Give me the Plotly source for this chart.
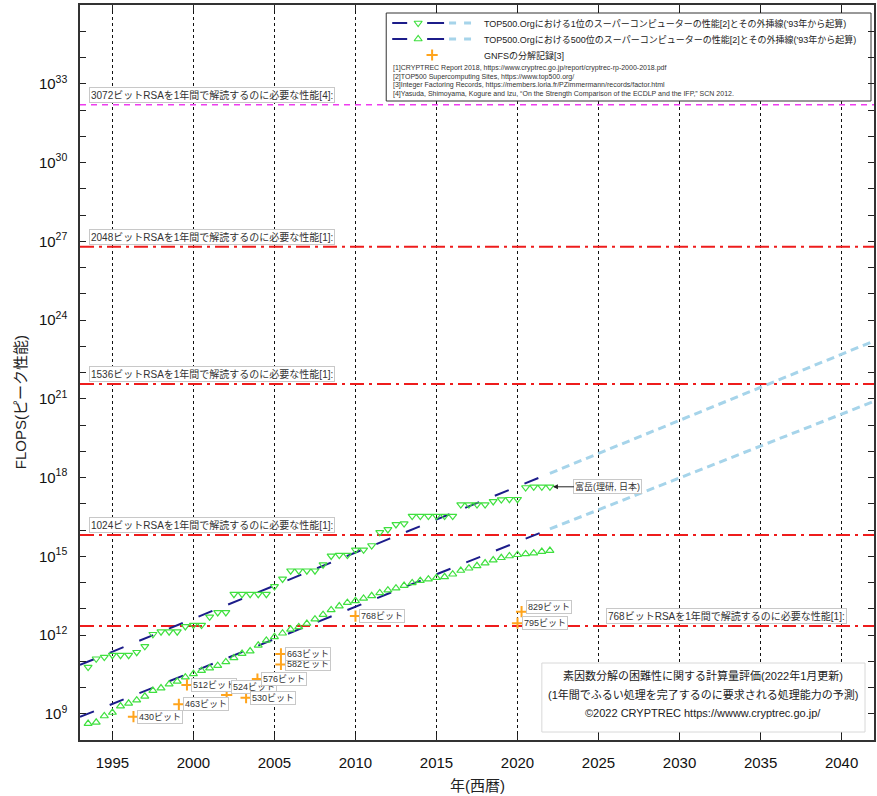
import math
import plotly.graph_objects as go

# ---------------- data ----------------
# TOP500 list editions (June -> year+0.5, November -> year+1.0)
top500_x = [1993.5, 1994.0, 1994.5, 1995.0, 1995.5, 1996.0, 1996.5, 1997.0, 1997.5, 1998.0,
            1998.5, 1999.0, 1999.5, 2000.0, 2000.5, 2001.0, 2001.5, 2002.0, 2002.5, 2003.0,
            2003.5, 2004.0, 2004.5, 2005.0, 2005.5, 2006.0, 2006.5, 2007.0, 2007.5, 2008.0,
            2008.5, 2009.0, 2009.5, 2010.0, 2010.5, 2011.0, 2011.5, 2012.0, 2012.5, 2013.0,
            2013.5, 2014.0, 2014.5, 2015.0, 2015.5, 2016.0, 2016.5, 2017.0, 2017.5, 2018.0,
            2018.5, 2019.0, 2019.5, 2020.0, 2020.5, 2021.0, 2021.5, 2022.0]
# performance of the No.1 system (GFLOPS)
rank1_gflops = [59.7, 124.5, 143.4, 170.4, 170.4, 170.4, 220.4, 368.2, 1068, 1338,
                1338, 1338, 2121, 2379, 2379, 4938, 7226, 7226, 35860, 35860,
                35860, 35860, 35860, 70720, 136800, 280600, 280600, 280600, 280600, 478200,
                1026000, 1105000, 1105000, 1759000, 1759000, 2566000, 8162000, 10510000, 16320000, 17590000,
                33860000, 33860000, 33860000, 33860000, 33860000, 33860000, 93010000, 93010000, 93010000, 93010000,
                122300000, 143500000, 148600000, 148600000, 415530000, 442010000, 442010000, 442010000]
# performance of the No.500 system (GFLOPS)
rank500_gflops = [0.422, 0.472, 0.822, 1.114, 1.956, 2.489, 3.306, 4.619, 7.667, 9.513,
                  13.39, 17.12, 24.73, 33.11, 43.82, 55.1, 67.78, 94.3, 134.3, 195.8,
                  245.1, 403.4, 624, 850.6, 1166, 1646, 2026, 2737, 4005, 5929,
                  9000, 12640, 17090, 20050, 24670, 31120, 40190, 50940, 60820, 76500,
                  96620, 117800, 133700, 153400, 164900, 206400, 285900, 349300, 432200, 548700,
                  715600, 874800, 1022000, 1142000, 1228000, 1317000, 1511000, 1646000]

# trend lines (log10 FLOPS) read at start / end of fit / end of extrapolation
fit_years = [1993, 2022]
extra_years = [2022, 2042]
rank1_fit_log = [10.86, 18.16]
rank1_extra_log = [18.16, 23.2]
rank500_fit_log = [8.88, 16.04]
rank500_extra_log = [16.04, 20.9]

# GNFS factoring records
gnfs_year = [1996.3, 1999.1, 1999.6, 2002.05, 2003.25, 2003.95, 2005.4, 2005.4, 2010.0, 2020.0, 2020.25]
gnfs_log = [8.89, 9.36, 10.10, 9.71, 9.61, 10.32, 10.88, 11.28, 12.72, 12.45, 12.89]
gnfs_labels = ["430ビット", "463ビット", "512ビット", "524ビット", "530ビット", "576ビット",
               "582ビット", "663ビット", "768ビット", "795ビット", "829ビット"]

# performance required to break RSA in one year (log10 FLOPS)
rsa_labels = ["3072ビットRSAを1年間で解読するのに必要な性能[4]:",
              "2048ビットRSAを1年間で解読するのに必要な性能[1]:",
              "1536ビットRSAを1年間で解読するのに必要な性能[1]:",
              "1024ビットRSAを1年間で解読するのに必要な性能[1]:",
              "768ビットRSAを1年間で解読するのに必要な性能[1]:"]
rsa_log = [32.2, 26.79, 21.56, 15.81, 12.34]

x_range = [1993, 2042]
y_log_range = [8, 36]
x_ticks = [1995, 2000, 2005, 2010, 2015, 2020, 2025, 2030, 2035, 2040]
y_label_decades = [9, 12, 15, 18, 21, 24, 27, 30, 33]
y_decades = list(range(8, 37))

legend_texts = ["TOP500.Orgにおける1位のスーパーコンピューターの性能[2]とその外挿線('93年から起算)",
                "TOP500.Orgにおける500位のスーパーコンピューターの性能[2]とその外挿線('93年から起算)",
                "GNFSの分解記録[3]"]
ref_texts = ["[1]CRYPTREC Report 2018, https://www.cryptrec.go.jp/report/cryptrec-rp-2000-2018.pdf",
             "[2]TOP500 Supercomputing Sites, https://www.top500.org/",
             "[3]Integer Factoring Records, https://members.loria.fr/PZimmermann/records/factor.html",
             "[4]Yasuda, Shimoyama, Kogure and Izu, \u201cOn the Strength Comparison of the ECDLP and the IFP,\u201d SCN 2012."]
note_lines = ["素因数分解の困難性に関する計算量評価(2022年1月更新)",
              "(1年間でふるい処理を完了するのに要求される処理能力の予測)",
              "©2022 CRYPTREC https://wwww.cryptrec.go.jp/"]
x_title = "年(西暦)"
y_title = "FLOPS(ピーク性能)"

# ---------------- styles ----------------
FONT = "Liberation Sans, Noto Sans CJK JP, sans-serif"
GREEN = "#3fe03f"
NAVY = "#1c1c8a"
LIGHTBLUE = "#a6d4ea"
ORANGE = "#ffa41c"
RED = "#ee1c1c"
MAGENTA = "#ee3cee"

W, H = 877, 796
ML, MR, MT, MB = 80, 1, 5, 56
PW, PH = W - ML - MR, H - MT - MB


def px_to_paper(px, py):
    return (px - ML) / PW, (H - MB - py) / PH


fig = go.Figure()

# threshold lines
for i, (lab, lv) in enumerate(zip(rsa_labels, rsa_log)):
    if i == 0:
        line = dict(color=MAGENTA, width=1.5, dash="6px,5px")
    else:
        line = dict(color=RED, width=2, dash="14px,5px,3px,5px")
    fig.add_trace(go.Scatter(x=x_range, y=[10.0 ** lv, 10.0 ** lv], mode="lines",
                             line=line, hoverinfo="skip", showlegend=False))

# trend lines
for fit_log, extra_log in [(rank1_fit_log, rank1_extra_log), (rank500_fit_log, rank500_extra_log)]:
    fig.add_trace(go.Scatter(x=fit_years, y=[10.0 ** v for v in fit_log], mode="lines",
                             line=dict(color=NAVY, width=2, dash="15px,17px"),
                             showlegend=False, hoverinfo="skip"))
    fig.add_trace(go.Scatter(x=extra_years, y=[10.0 ** v for v in extra_log], mode="lines",
                             line=dict(color=LIGHTBLUE, width=3, dash="8px,5px"),
                             showlegend=False, hoverinfo="skip"))

# TOP500 points
MSIZE = 7
fig.add_trace(go.Scatter(x=top500_x, y=[v * 1e9 for v in rank1_gflops], mode="markers",
                         marker=dict(symbol="triangle-down-open", size=MSIZE, color=GREEN,
                                     line=dict(width=1.2, color=GREEN)),
                         showlegend=False))
fig.add_trace(go.Scatter(x=top500_x, y=[v * 1e9 for v in rank500_gflops], mode="markers",
                         marker=dict(symbol="triangle-up-open", size=MSIZE, color=GREEN,
                                     line=dict(width=1.2, color=GREEN)),
                         showlegend=False))
# GNFS
fig.add_trace(go.Scatter(x=gnfs_year, y=[10.0 ** v for v in gnfs_log], mode="markers",
                         marker=dict(symbol="cross-thin", size=8, color=ORANGE,
                                     line=dict(width=2, color=ORANGE)),
                         showlegend=False))

annotations = []
label_style = dict(bgcolor="white", bordercolor="#c8c8c8", borderwidth=1, borderpad=1,
                   showarrow=False)
# threshold labels
for i, (lab, lv) in enumerate(zip(rsa_labels, rsa_log)):
    if i < 4:
        annotations.append(dict(x=x_range[0], y=lv, xref="x", yref="y", text=lab,
                                xanchor="left", yanchor="bottom", xshift=9, yshift=2,
                                font=dict(size=10, color="#333", family=FONT), **label_style))
    else:
        annotations.append(dict(x=x_range[1], y=lv, xref="x", yref="y", text=lab,
                                xanchor="right", yanchor="bottom", xshift=-27, yshift=2,
                                font=dict(size=10, color="#333", family=FONT), **label_style))
# GNFS labels
gnfs_yshift = {"524ビット": 8, "829ビット": 5}
for yr, lv, lab in zip(gnfs_year, gnfs_log, gnfs_labels):
    annotations.append(dict(x=yr, y=lv, xref="x", yref="y", text=lab,
                            xanchor="left", yanchor="middle", xshift=4,
                            yshift=gnfs_yshift.get(lab, 0),
                            font=dict(size=9, color="#333", family=FONT), **label_style))
# Fugaku
annotations.append(dict(x=top500_x[-1], y=math.log10(rank1_gflops[-1] * 1e9),
                        xref="x", yref="y", text="富岳(理研, 日本)", showarrow=True,
                        arrowhead=2, arrowsize=1, arrowwidth=1, arrowcolor="#222",
                        ax=58, ay=0, standoff=3,
                        bgcolor="white", bordercolor="#c8c8c8", borderwidth=1, borderpad=1,
                        font=dict(size=9, color="#333", family=FONT)))

# axis titles (paper coordinates)
tx, ty = px_to_paper(478, 785)
annotations.append(dict(x=tx, y=ty, xref="paper", yref="paper", text=x_title, showarrow=False,
                        xanchor="center", yanchor="middle",
                        font=dict(size=15, color="#222", family=FONT)))
tx, ty = px_to_paper(20, 402)
annotations.append(dict(x=tx, y=ty, xref="paper", yref="paper", text=y_title,
                        showarrow=False, textangle=-90, xanchor="center", yanchor="middle",
                        font=dict(size=15, color="#222", family=FONT)))

# legend and note boxes (pixel-based overlay axes), drawn as filled outlines
LEG = dict(box=(387, 13, 873, 101), rows=(23, 39, 55), text_x=483,
           ref_x=392, ref_rows=(68, 77, 85, 94))
NOTE = dict(box=(543, 663, 867, 732), cx=705, rows=(675, 694, 713))
for box, col in [(LEG["box"], "#333"), (NOTE["box"], "#d8d8d8")]:
    x0, y0, x1, y1 = box
    fig.add_trace(go.Scatter(x=[x0, x1, x1, x0, x0], y=[y0, y0, y1, y1, y0],
                             xaxis="x2", yaxis="y2", mode="lines", fill="toself",
                             fillcolor="white", line=dict(color=col, width=1),
                             showlegend=False, hoverinfo="skip"))

for r, sym in zip(LEG["rows"][:2], ["triangle-down-open", "triangle-up-open"]):
    fig.add_trace(go.Scatter(x=[393, 408], y=[r, r], xaxis="x2", yaxis="y2", mode="lines",
                             line=dict(color=NAVY, width=2), showlegend=False, hoverinfo="skip"))
    fig.add_trace(go.Scatter(x=[428, 445], y=[r, r], xaxis="x2", yaxis="y2", mode="lines",
                             line=dict(color=NAVY, width=2), showlegend=False, hoverinfo="skip"))
    fig.add_trace(go.Scatter(x=[450, 472], y=[r, r], xaxis="x2", yaxis="y2", mode="lines",
                             line=dict(color=LIGHTBLUE, width=3, dash="7px,8px"),
                             showlegend=False, hoverinfo="skip"))
    fig.add_trace(go.Scatter(x=[419], y=[r], xaxis="x2", yaxis="y2", mode="markers",
                             marker=dict(symbol=sym, size=MSIZE, color=GREEN,
                                         line=dict(width=1.2, color=GREEN)),
                             showlegend=False, hoverinfo="skip"))
fig.add_trace(go.Scatter(x=[433], y=[LEG["rows"][2]], xaxis="x2", yaxis="y2", mode="markers",
                         marker=dict(symbol="cross-thin", size=8, color=ORANGE,
                                     line=dict(width=2, color=ORANGE)),
                         showlegend=False, hoverinfo="skip"))
for r, t in zip(LEG["rows"], legend_texts):
    annotations.append(dict(x=LEG["text_x"], y=r, xref="x2", yref="y2", text=t,
                            xanchor="left", yanchor="middle", showarrow=False,
                            font=dict(size=9, color="#222", family=FONT)))
for r, t in zip(LEG["ref_rows"], ref_texts):
    annotations.append(dict(x=LEG["ref_x"], y=r, xref="x2", yref="y2", text=t,
                            xanchor="left", yanchor="middle", showarrow=False,
                            font=dict(size=7, color="#333", family=FONT)))
for r, t in zip(NOTE["rows"], note_lines):
    annotations.append(dict(x=NOTE["cx"], y=r, xref="x2", yref="y2", text=t,
                            xanchor="center", yanchor="middle", showarrow=False,
                            font=dict(size=11, color="#222", family=FONT)))

y_tickvals = [10.0 ** k for k in y_label_decades]
y_ticktext = ["10<sup>%d</sup>" % k for k in y_label_decades]
y_minorvals = [10.0 ** k for k in y_decades if k not in y_label_decades]

fig.update_layout(
    width=W, height=H,
    margin=dict(l=ML, r=MR, t=MT, b=MB),
    paper_bgcolor="white", plot_bgcolor="white",
    font=dict(family=FONT, size=14, color="#111"),
    showlegend=False,
    xaxis=dict(range=x_range, tickvals=x_ticks, ticks="inside", ticklen=6, tickwidth=1,
               tickcolor="#222", showline=True, linecolor="#333", linewidth=1.8, mirror="ticks",
               showgrid=True, gridcolor="#111", gridwidth=1, griddash="3px,3px",
               zeroline=False, ticklabelstandoff=8, tickfont=dict(size=15, color="#111")),
    yaxis=dict(type="log", range=y_log_range, tickvals=y_tickvals, ticktext=y_ticktext,
               ticks="inside", ticklen=6, tickwidth=1, tickcolor="#222",
               minor=dict(tickmode="array", tickvals=y_minorvals, ticks="inside", ticklen=6,
                          tickwidth=1, tickcolor="#222", showgrid=False),
               showline=True, linecolor="#333", linewidth=1.5, mirror="ticks",
               showgrid=False, zeroline=False, ticklabelstandoff=8,
               tickfont=dict(size=15, color="#111")),
    xaxis2=dict(overlaying="x", anchor="y2", range=[ML, W - MR], visible=False),
    yaxis2=dict(overlaying="y", anchor="x2", range=[H - MB, MT], visible=False),
    annotations=annotations,
)

fig.write_html("out.html", config={"displayModeBar": False},
               post_script="document.body.style.margin='0';document.body.style.overflow='hidden';")
